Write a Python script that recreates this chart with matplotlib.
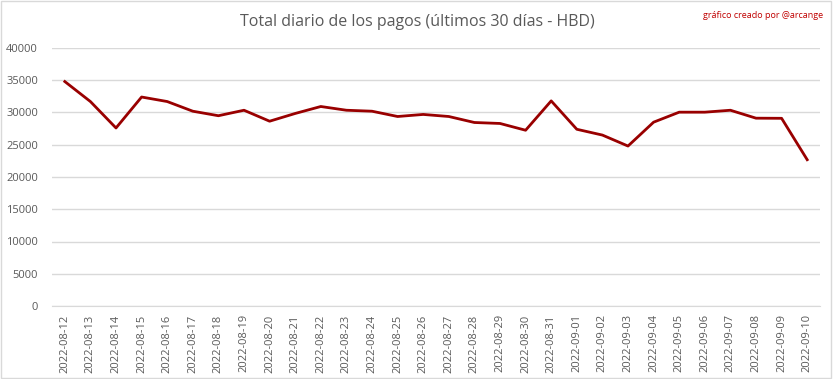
import matplotlib
matplotlib.use("Agg")
import matplotlib.pyplot as plt

dates = ["2022-08-12", "2022-08-13", "2022-08-14", "2022-08-15", "2022-08-16",
         "2022-08-17", "2022-08-18", "2022-08-19", "2022-08-20", "2022-08-21",
         "2022-08-22", "2022-08-23", "2022-08-24", "2022-08-25", "2022-08-26",
         "2022-08-27", "2022-08-28", "2022-08-29", "2022-08-30", "2022-08-31",
         "2022-09-01", "2022-09-02", "2022-09-03", "2022-09-04", "2022-09-05",
         "2022-09-06", "2022-09-07", "2022-09-08", "2022-09-09", "2022-09-10"]
payouts = [34800, 31700, 27600, 32400, 31700, 30200, 29500, 30350, 28650, 29850,
           30930, 30350, 30200, 29380, 29700, 29380, 28450, 28300, 27250, 31800,
           27400, 26500, 24800, 28500, 30050, 30050, 30350, 29120, 29100, 22680]
y_ticks = list(range(0, 40001, 5000))

plt.rcParams['font.family'] = ['Open Sans', 'DejaVu Sans']

fig = plt.figure(figsize=(8.33, 3.79), dpi=100)
ax = fig.add_axes([52 / 833, 1 - 306 / 379, 768 / 833, 258 / 379])

x = range(len(dates))
ax.plot(x, payouts, color='#990000', linewidth=2)

ax.set_xlim(-0.5, len(dates) - 0.5)
ax.set_ylim(0, 40000)
ax.set_yticks(y_ticks)
ax.set_yticklabels([str(v) for v in y_ticks], fontsize=8, color='#595959')
ax.set_xticks(list(x))
ax.set_xticklabels(dates, rotation=90, fontsize=8, color='#595959')
ax.tick_params(axis='x', length=0, pad=6)
ax.tick_params(axis='y', length=0, pad=10)
ax.grid(axis='y', color='#d9d9d9', linewidth=1)
ax.set_axisbelow(True)
for side in ['top', 'right', 'left']:
    ax.spines[side].set_visible(False)
ax.spines['bottom'].set_color('#d9d9d9')

fig.text(417 / 833, 1 - 22 / 379, 'Total diario de los pagos (últimos 30 días - HBD)',
         ha='center', va='center', fontsize=11.5, color='#595959')
fig.text(823 / 833, 1 - 16 / 379, 'gráfico creado por @arcange',
         ha='right', va='center', fontsize=6.5, color='#c00000')

# light border around the whole picture
fig.patches.append(plt.Rectangle((0.001, 0.002), 0.997, 0.995, transform=fig.transFigure,
                                 fill=False, edgecolor='#d9d9d9', linewidth=1))

fig.savefig('out.png', dpi=100)
